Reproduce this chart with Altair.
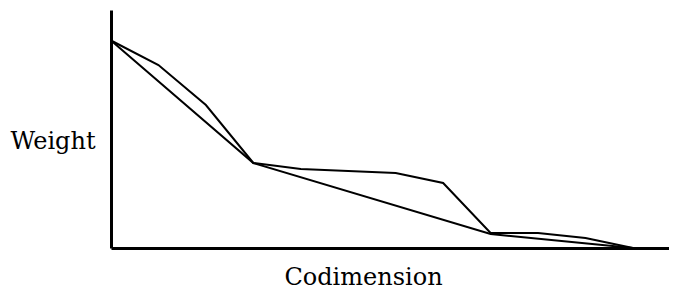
import altair as alt
import pandas as pd

# Codimension index (evenly spaced steps)
upper_x = [0, 1, 2, 3, 4, 5, 6, 7, 8, 9, 10, 11]
upper_w = [207.5, 183, 143, 85, 79, 77, 75, 65, 15, 15, 10, 0]
lower_x = [0, 3, 8, 11]
lower_w = [207.5, 85, 14, 0]

rows = []
for i, (x, w) in enumerate(zip(upper_x, upper_w)):
    rows.append({"series": "upper", "order": i, "codim": x, "weight": w})
for i, (x, w) in enumerate(zip(lower_x, lower_w)):
    rows.append({"series": "lower", "order": i, "codim": x, "weight": w})
df = pd.DataFrame(rows)

FONT = "DejaVu Serif"

chart = alt.Chart(df).mark_line(color="black", strokeWidth=2).encode(
    x=alt.X("codim:Q",
            scale=alt.Scale(domain=[0, 11.76], nice=False, zero=False),
            axis=alt.Axis(title="Codimension", ticks=False, labels=False, grid=False,
                          domainColor="black", domainWidth=3,
                          titleFont=FONT, titleFontSize=24, titleFontWeight="normal",
                          titleColor="black", titleX=252, titleY=41,
                          titleAlign="center", titleBaseline="bottom")),
    y=alt.Y("weight:Q",
            scale=alt.Scale(domain=[0, 238], nice=False),
            axis=alt.Axis(title="Weight", ticks=False, labels=False, grid=False,
                          domainColor="black", domainWidth=3,
                          titleFont=FONT, titleFontSize=24, titleFontWeight="normal",
                          titleColor="black", titleAngle=0, titleX=-101, titleY=138,
                          titleAlign="left", titleBaseline="alphabetic")),
    detail="series:N",
    order="order:Q",
).properties(
    width=558,
    height=238,
    background="white",
    autosize=alt.AutoSizeParams(type="none"),
    padding={"left": 103, "top": 2, "right": 0, "bottom": 42},
).configure_view(stroke=None, strokeWidth=0)

chart.save("out.html", embed_options={"renderer": "svg", "actions": False})
